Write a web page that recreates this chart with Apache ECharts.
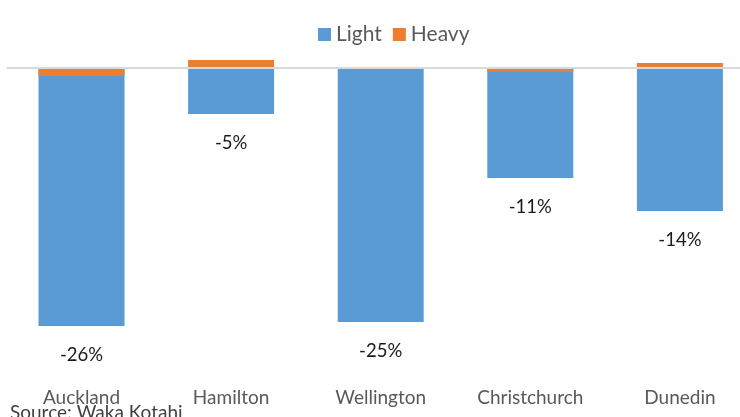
<!DOCTYPE html>
<html><head><meta charset="utf-8">
<script src="https://cdn.jsdelivr.net/npm/echarts@6/dist/echarts.min.js"></script>
<style>html,body{margin:0;padding:0;background:#fff;overflow:hidden;width:740px;height:417px}#c{width:760px;height:417px}</style>
</head><body><div id="c"></div>
<script>
const categories = ['Auckland', 'Hamilton', 'Wellington', 'Christchurch', 'Dunedin'];
const lightValues = [-0.258, -0.046, -0.254, -0.110, -0.143];
const heavyValues = [-0.008, 0.008, -0.001, -0.004, 0.005];
const seriesNames = ['Light', 'Heavy'];
const sourceText = 'Source: Waka Kotahi';

const chart = echarts.init(document.getElementById('c'));
const font = 'Lato, "Open Sans", sans-serif';
chart.setOption({
  animation: false,
  color: ['#5B9BD5', '#ED7D31'],
  legend: {
    data: seriesNames,
    top: 19, left: 313,
    itemWidth: 13, itemHeight: 13, itemGap: 11,
    icon: 'rect',
    textStyle: { fontFamily: font, fontSize: 21, color: '#595959' }
  },
  grid: { left: 6.7, width: 748, top: 18, bottom: 49, containLabel: false },
  xAxis: {
    type: 'category', data: categories,
    axisLine: { show: false }, axisTick: { show: false },
    axisLabel: { margin: 20, fontFamily: font, fontSize: 19, color: '#595959' }
  },
  yAxis: { type: 'value', min: -0.30, max: 0.05, show: false, splitLine: { show: false } },
  graphic: [{
    type: 'text', left: 10, top: 403,
    style: { text: sourceText, fontFamily: font, fontSize: 19, fill: '#404040' }
  }],
  series: [
    {
      name: seriesNames[0], type: 'bar', data: lightValues, barWidth: 86, barGap: '-100%',
      label: {
        show: true, position: 'bottom', distance: 20,
        fontFamily: font, fontSize: 18.5, color: '#1a1a1a',
        formatter: p => Math.round(p.value * 100) + '%'
      },
      markLine: {
        silent: true, symbol: 'none', label: { show: false },
        lineStyle: { color: '#D9D9D9', width: 2, type: 'solid' },
        data: [{ yAxis: 0 }]
      }
    },
    { name: seriesNames[1], type: 'bar', data: heavyValues, barWidth: 86, barGap: '-100%' }
  ]
});
</script></body></html>
